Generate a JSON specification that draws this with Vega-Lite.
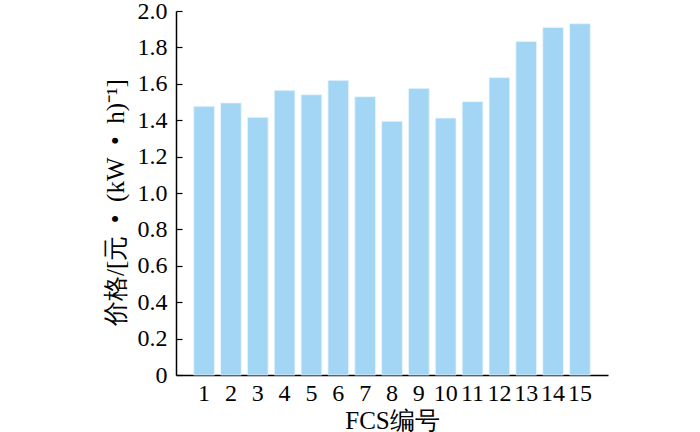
{
  "$schema": "https://vega.github.io/schema/vega-lite/v6.json",
  "autosize": {"type": "none"},
  "padding": {"left": 176, "top": 11, "right": 92, "bottom": 57},
  "width": 432,
  "height": 364,
  "background": "white",
  "config": {
    "view": {"stroke": null},
    "font": "Liberation Serif",
    "axis": {
      "domainColor": "black",
      "tickColor": "black",
      "labelColor": "black",
      "titleColor": "black",
      "labelFont": "Liberation Serif",
      "titleFont": "Liberation Serif",
      "labelFontSize": 24,
      "titleFontSize": 25,
      "titleFontWeight": "normal",
      "grid": false,
      "domainWidth": 1.5,
      "tickWidth": 1.2
    }
  },
  "data": {
    "values": [
      {"fcs": "1", "price": 1.476},
      {"fcs": "2", "price": 1.495},
      {"fcs": "3", "price": 1.416},
      {"fcs": "4", "price": 1.564},
      {"fcs": "5", "price": 1.540},
      {"fcs": "6", "price": 1.619},
      {"fcs": "7", "price": 1.529},
      {"fcs": "8", "price": 1.394},
      {"fcs": "9", "price": 1.575},
      {"fcs": "10", "price": 1.412},
      {"fcs": "11", "price": 1.502},
      {"fcs": "12", "price": 1.634},
      {"fcs": "13", "price": 1.833},
      {"fcs": "14", "price": 1.910},
      {"fcs": "15", "price": 1.930}
    ]
  },
  "mark": {"type": "bar", "color": "#a2d6f4", "stroke": "#e8f5fc", "strokeWidth": 0.8},
  "encoding": {
    "x": {
      "field": "fcs",
      "type": "ordinal",
      "sort": null,
      "scale": {"paddingInner": 0.23, "paddingOuter": 0.66},
      "axis": {
        "title": "FCS编号",
        "labelAngle": 0,
        "tickSize": -6,
        "labelPadding": 12,
        "titlePadding": 3
      }
    },
    "y": {
      "field": "price",
      "type": "quantitative",
      "scale": {"domain": [0, 2]},
      "axis": {
        "title": "价格/[元\u2002•\u2002(kW\u2002•\u2002h)\u207b\u00b9]",
        "titleX": -48,
        "titleY": 191,
        "values": [0, 0.2, 0.4, 0.6, 0.8, 1.0, 1.2, 1.4, 1.6, 1.8, 2.0],
        "labelExpr": "datum.value == 0 ? '0' : format(datum.value, '.1f')",
        "tickSize": -6,
        "labelPadding": 15
      }
    }
  }
}
